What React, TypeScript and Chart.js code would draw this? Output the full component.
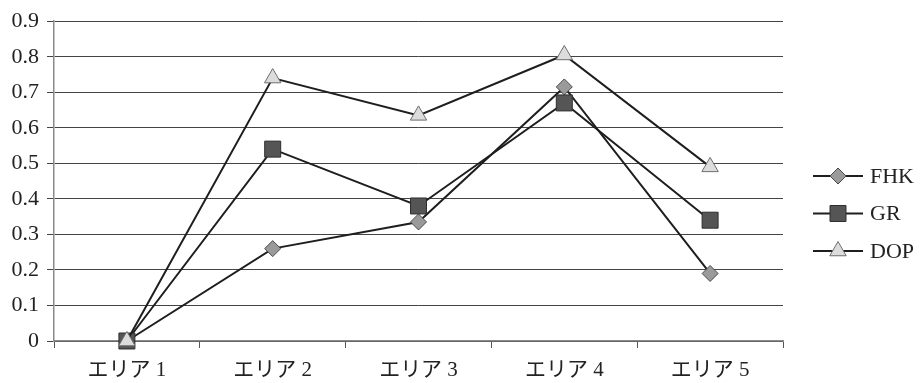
import React, { useEffect, useRef } from 'react';
import { Chart, registerables } from 'chart.js';
import { drawPoint } from 'chart.js/helpers';

Chart.register(...registerables);

// Areas along the horizontal axis
const areas = ['エリア 1', 'エリア 2', 'エリア 3', 'エリア 4', 'エリア 5'];

// Series values per area
const fhkValues = [0, 0.26, 0.335, 0.715, 0.19];
const grValues = [0, 0.54, 0.38, 0.67, 0.34];
const dopValues = [0, 0.74, 0.635, 0.805, 0.49];

// Vertical axis range
const yMin = 0;
const yMax = 0.9;
const yStep = 0.1;

const FONT = "'Liberation Serif', 'Noto Sans CJK JP', serif";

// Legend on the right: a short line with the series marker, then the name
const lineMarkerLegend = {
  id: 'lineMarkerLegend',
  afterDraw(chart: any, _args: any, opts: any) {
    const ctx = chart.ctx;
    ctx.save();
    chart.data.datasets.forEach((ds: any, i: number) => {
      const y = opts.top + i * opts.gap;
      ctx.strokeStyle = ds.borderColor;
      ctx.lineWidth = ds.borderWidth;
      ctx.beginPath();
      ctx.moveTo(opts.left, y);
      ctx.lineTo(opts.left + opts.lineLength, y);
      ctx.stroke();
      ctx.fillStyle = ds.pointBackgroundColor;
      ctx.strokeStyle = ds.pointBorderColor;
      ctx.lineWidth = ds.pointBorderWidth;
      drawPoint(ctx, {
        pointStyle: ds.pointStyle,
        radius: ds.pointRadius,
        rotation: 0,
        borderWidth: ds.pointBorderWidth,
      }, opts.left + opts.lineLength / 2, y);
      ctx.fillStyle = '#222';
      ctx.font = `${opts.fontSize}px ${FONT}`;
      ctx.textBaseline = 'middle';
      ctx.textAlign = 'left';
      ctx.fillText(ds.label, opts.left + opts.lineLength + 7, y + 1);
    });
    ctx.restore();
  },
};

export default function App() {
  const canvasRef = useRef<HTMLCanvasElement | null>(null);

  useEffect(() => {
    if (!canvasRef.current) return;
    const lineColor = '#1e1e1e';
    const chart = new Chart(canvasRef.current, {
      type: 'line',
      data: {
        labels: areas,
        datasets: [
          {
            label: 'FHK',
            data: fhkValues,
            borderColor: lineColor,
            borderWidth: 2,
            pointStyle: 'rectRot',
            pointRadius: 8,
            pointHoverRadius: 8,
            pointBackgroundColor: '#9a9a9a',
            pointBorderColor: '#4a4a4a',
            pointBorderWidth: 1,
            clip: false,
            order: 2,
          },
          {
            label: 'GR',
            data: grValues,
            borderColor: lineColor,
            borderWidth: 2,
            pointStyle: 'rect',
            pointRadius: 11.3,
            pointHoverRadius: 11.3,
            pointBackgroundColor: '#555555',
            pointBorderColor: '#2e2e2e',
            pointBorderWidth: 1,
            clip: false,
            order: 1,
          },
          {
            label: 'DOP',
            data: dopValues,
            borderColor: lineColor,
            borderWidth: 2,
            pointStyle: 'triangle',
            pointRadius: 9.5,
            pointHoverRadius: 9.5,
            pointBackgroundColor: '#dcdcdc',
            pointBorderColor: '#6e6e6e',
            pointBorderWidth: 1,
            clip: false,
            order: 0,
          },
        ],
      },
      options: {
        animation: false,
        responsive: true,
        maintainAspectRatio: false,
        layout: { padding: { top: 18, right: 140, left: 0, bottom: 0 } },
        plugins: {
          legend: { display: false },
          tooltip: { enabled: false },
          lineMarkerLegend: { left: 813, top: 176, gap: 37.5, lineLength: 50, fontSize: 22 },
        } as any,
        scales: {
          x: {
            offset: true,
            afterFit: (scale: any) => { scale.height = 42; },
            grid: {
              offset: true,
              drawOnChartArea: false,
              drawTicks: true,
              tickLength: 7,
              color: '#555',
            },
            border: { color: '#8a8a8a', width: 1.5 },
            ticks: {
              color: '#222',
              padding: 10,
              font: { family: FONT, size: 21 },
              maxRotation: 0,
            },
          },
          y: {
            min: yMin,
            max: yMax,
            afterFit: (scale: any) => { scale.width = 54; },
            grid: {
              color: '#444',
              lineWidth: 1,
              tickLength: 7,
            },
            border: { color: '#8a8a8a', width: 1.5 },
            ticks: {
              stepSize: yStep,
              color: '#222',
              padding: 8,
              font: { family: FONT, size: 22 },
              callback: (v: any) => (Number(v) === 0 ? '0' : Number(v).toFixed(1)),
            },
          },
        },
      },
      plugins: [lineMarkerLegend],
    });
    return () => chart.destroy();
  }, []);

  return (
    <div style={{ position: 'fixed', left: 0, top: 0, width: 923, height: 383, background: '#fff' }}>
      <canvas ref={canvasRef} />
    </div>
  );
}
